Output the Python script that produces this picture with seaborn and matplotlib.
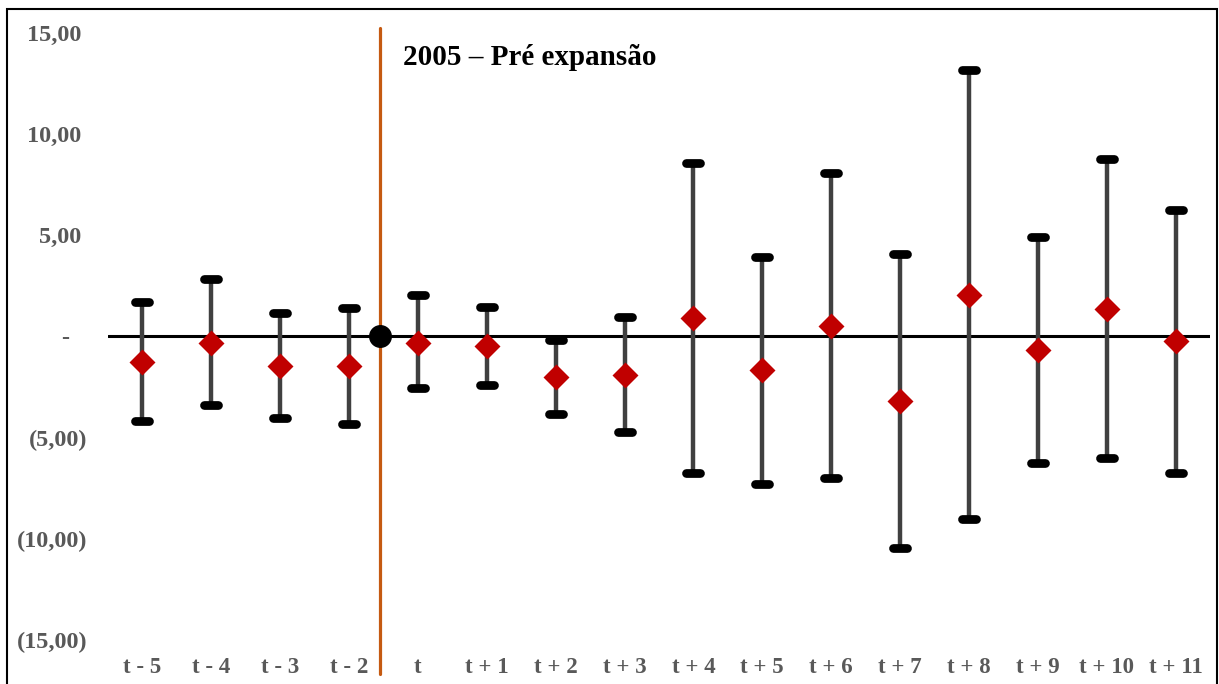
import numpy as np
import pandas as pd
import matplotlib
matplotlib.use("Agg")
import matplotlib.pyplot as plt
import matplotlib.transforms as mtransforms
from matplotlib.markers import MarkerStyle
from matplotlib.patches import Rectangle
import seaborn as sns

# event-study coefficients with confidence interval bounds
periods = ["t - 5", "t - 4", "t - 3", "t - 2", "t", "t + 1", "t + 2", "t + 3",
           "t + 4", "t + 5", "t + 6", "t + 7", "t + 8", "t + 9", "t + 10", "t + 11"]
coef = [-1.24, -0.30, -1.45, -1.45, -0.30, -0.48, -1.99, -1.89,
        0.89, -1.66, 0.53, -3.20, 2.07, -0.67, 1.37, -0.24]
lower = [-4.20, -3.41, -4.03, -4.33, -2.57, -2.40, -3.82, -4.71,
         -6.77, -7.27, -6.99, -10.47, -9.00, -6.24, -6.00, -6.74]
upper = [1.70, 2.84, 1.17, 1.43, 2.03, 1.47, -0.16, 0.96,
         8.58, 3.94, 8.08, 4.07, 13.15, 4.91, 8.77, 6.27]

# omitted period (t - 1), drawn between t - 2 and t
ref_value = 0.0
ref_after = "t - 2"
ref_frac = 0.45
line_span = (15.25, -16.7)
title_text = "2005 – Pré expansão"

yticks = [-15, -10, -5, 0, 5, 10, 15]

sns.set_style("white")
plt.rcParams["font.family"] = ["Liberation Serif", "DejaVu Serif"]
plt.rcParams["font.weight"] = "bold"

df = pd.DataFrame({"periodo": periods, "coef": coef, "lower": lower, "upper": upper})

fig = plt.figure(figsize=(12.19, 6.84), dpi=100)
ax = fig.add_axes([108 / 1219, 1 - 640 / 684, (1210 - 108) / 1219, (640 - 33) / 684])

pos = np.arange(len(df))

# interval bars with black caps
eb = ax.errorbar(pos, df["coef"],
                 yerr=[df["coef"] - df["lower"], df["upper"] - df["coef"]],
                 fmt="none", ecolor="#404040", elinewidth=3.2,
                 capsize=5.0, capthick=6.3, zorder=3)
for cap in eb[1]:
    cap.set_marker(MarkerStyle("_", capstyle="round"))
    cap.set_markeredgecolor("black")
    cap.set_color("black")

ax.axhline(0, color="black", lw=2.2, zorder=2)

sns.pointplot(data=df, x="periodo", y="coef", order=periods, ax=ax,
              linestyle="none", marker="D", markersize=11,
              color="#C00000", errorbar=None, zorder=5)

ref_x = periods.index(ref_after) + ref_frac
ax.plot([ref_x, ref_x], list(line_span), color="#C55A11", lw=2.3,
        clip_on=False, zorder=1)
ax.plot([ref_x], [ref_value], marker="o", ms=15.5, color="black",
        linestyle="none", zorder=6)

ax.text(ref_x + 0.33, 13.8, title_text, fontsize=21, fontweight="bold",
        color="black", ha="left", va="center")

ax.set_xlim(-0.5, len(periods) - 0.5)
ax.set_ylim(-15, 15)
ax.set_xlabel("")
ax.set_ylabel("")
for s in ax.spines.values():
    s.set_visible(False)


def fmt(v):
    if v == 0:
        return "-"
    txt = f"{abs(v):.2f}".replace(".", ",")
    return f"({txt})" if v < 0 else txt


ax.set_yticks(yticks)
ax.set_yticklabels([fmt(v) for v in yticks])
ax.tick_params(axis="y", length=0, pad=15, labelsize=17.5, labelcolor="#595959")
ax.tick_params(axis="x", length=0, pad=12, labelsize=16.5, labelcolor="#595959")
for lab in ax.get_yticklabels() + ax.get_xticklabels():
    lab.set_fontweight("bold")

# accounting-style alignment: numbers line up, parentheses hang out
for v, lab in zip(yticks, ax.get_yticklabels()):
    if v == 0:
        dx = -18
    elif v > 0:
        dx = -6
    else:
        dx = 0
    lab.set_transform(lab.get_transform() +
                      mtransforms.ScaledTranslation(dx / 100, 0, fig.dpi_scale_trans))

fig.patches.append(Rectangle((7 / 1219, -0.05), (1217 - 7) / 1219, 1.05 - 9 / 684,
                             transform=fig.transFigure, fill=False,
                             edgecolor="black", lw=1.5))

fig.savefig("out.png", dpi=100)
